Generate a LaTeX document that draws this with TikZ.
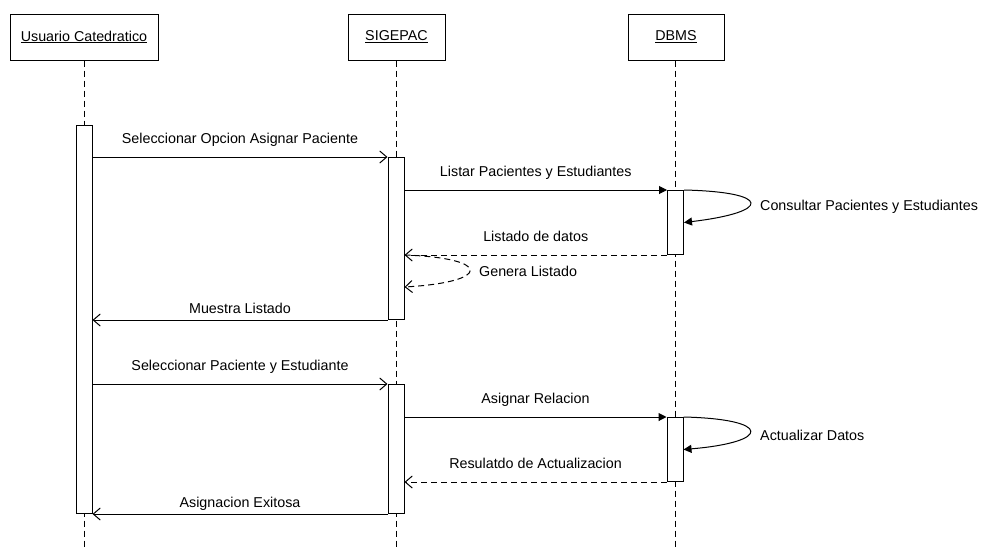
\documentclass[tikz,border=0pt]{standalone}
\usepackage{fontspec}
\setmainfont{Liberation Sans}
\usetikzlibrary{arrows.meta}
\begin{document}
\begin{tikzpicture}[x=1pt,y=-1pt,
  every node/.style={font=\fontsize{14.3}{17}\selectfont},
  head/.style={draw, line width=1pt, minimum height=46pt, inner sep=0pt},
  life/.style={line width=1pt, dash pattern=on 6pt off 4pt},
  act/.style={draw, fill=white, line width=1pt, minimum width=16pt, inner sep=0pt, anchor=north},
  call/.style={line width=1pt, -{Triangle[length=8pt,width=8pt]}},
  msg/.style={line width=1pt, -{Straight Barb[length=7pt,width=12pt]}},
  ret/.style={msg, dash pattern=on 6pt off 4pt},
  lbl/.style={inner sep=0pt, midway, anchor=base, yshift=14pt},
  lblnear/.style={lbl, yshift=-7pt},
  note/.style={inner sep=0pt, anchor=west}]
\useasboundingbox (0,0) rectangle (981,547);

% participants
\node[head, minimum width=148pt] (user) at (84,37) {\underline{Usuario Catedratico}};
\node[head, minimum width=97pt] (sys) at (396.5,37) {\underline{SIGEPAC}};
\node[head, minimum width=96pt] (db) at (676,37) {\underline{DBMS}};

% lifelines
\coordinate (userEnd) at (84,547);
\coordinate (sysEnd) at (396,547);
\coordinate (dbEnd) at (675,547);
\draw[life] (user.south) -- (userEnd);
\draw[life] (sys.south -| sysEnd) -- (sysEnd);
\draw[life] (db.south -| dbEnd) -- (dbEnd);

% activation bars
\node[act, minimum height=388pt] (ua) at (84,125) {};
\node[act, minimum height=162pt] (sa1) at (396,157) {};
\node[act, minimum height=64pt] (da1) at (675.5,190) {};
\node[act, minimum height=129pt] (sa2) at (396,384) {};
\node[act, minimum height=64pt] (da2) at (675,417) {};

% first interaction
\draw[msg] (ua.east |- sa1.north) -- (sa1.north west)
  node[lbl] {Seleccionar Opcion Asignar Paciente};
\draw[call] (sa1.east |- da1.north) -- (da1.north west)
  node[lbl] {Listar Pacientes y Estudiantes};
\draw[call] (da1.north east) .. controls (772,192) and (772,212) .. (da1.east);
\node[note] (consult) at (760,207) {Consultar Pacientes y Estudiantes};
\draw[ret] (da1.south west) -- (sa1.east |- da1.south)
  node[lbl] {Listado de datos};
\coordinate (genEnd) at (sa1.east |- 0,287);
\draw[ret] (sa1.east |- da1.south) .. controls (492,258) and (492,282) .. (genEnd);
\node[note] (genera) at (479,271) {Genera Listado};
\draw[msg] (sa1.south west) -- (ua.east |- sa1.south)
  node[lblnear] {Muestra Listado};

% second interaction
\draw[msg] (ua.east |- sa2.north) -- (sa2.north west)
  node[lbl] {Seleccionar Paciente y Estudiante};
\draw[call] (sa2.east |- da2.north) -- (da2.north west)
  node[lbl] {Asignar Relacion};
\draw[call] (da2.north east) .. controls (772,419) and (772,442) .. (da2.east);
\node[note] (update) at (760,435) {Actualizar Datos};
\draw[ret] (da2.south west) -- (sa2.east |- da2.south)
  node[lbl] {Resulatdo de Actualizacion};
\draw[msg] (sa2.south west) -- (ua.east |- sa2.south)
  node[lblnear] {Asignacion Exitosa};
\end{tikzpicture}
\end{document}
